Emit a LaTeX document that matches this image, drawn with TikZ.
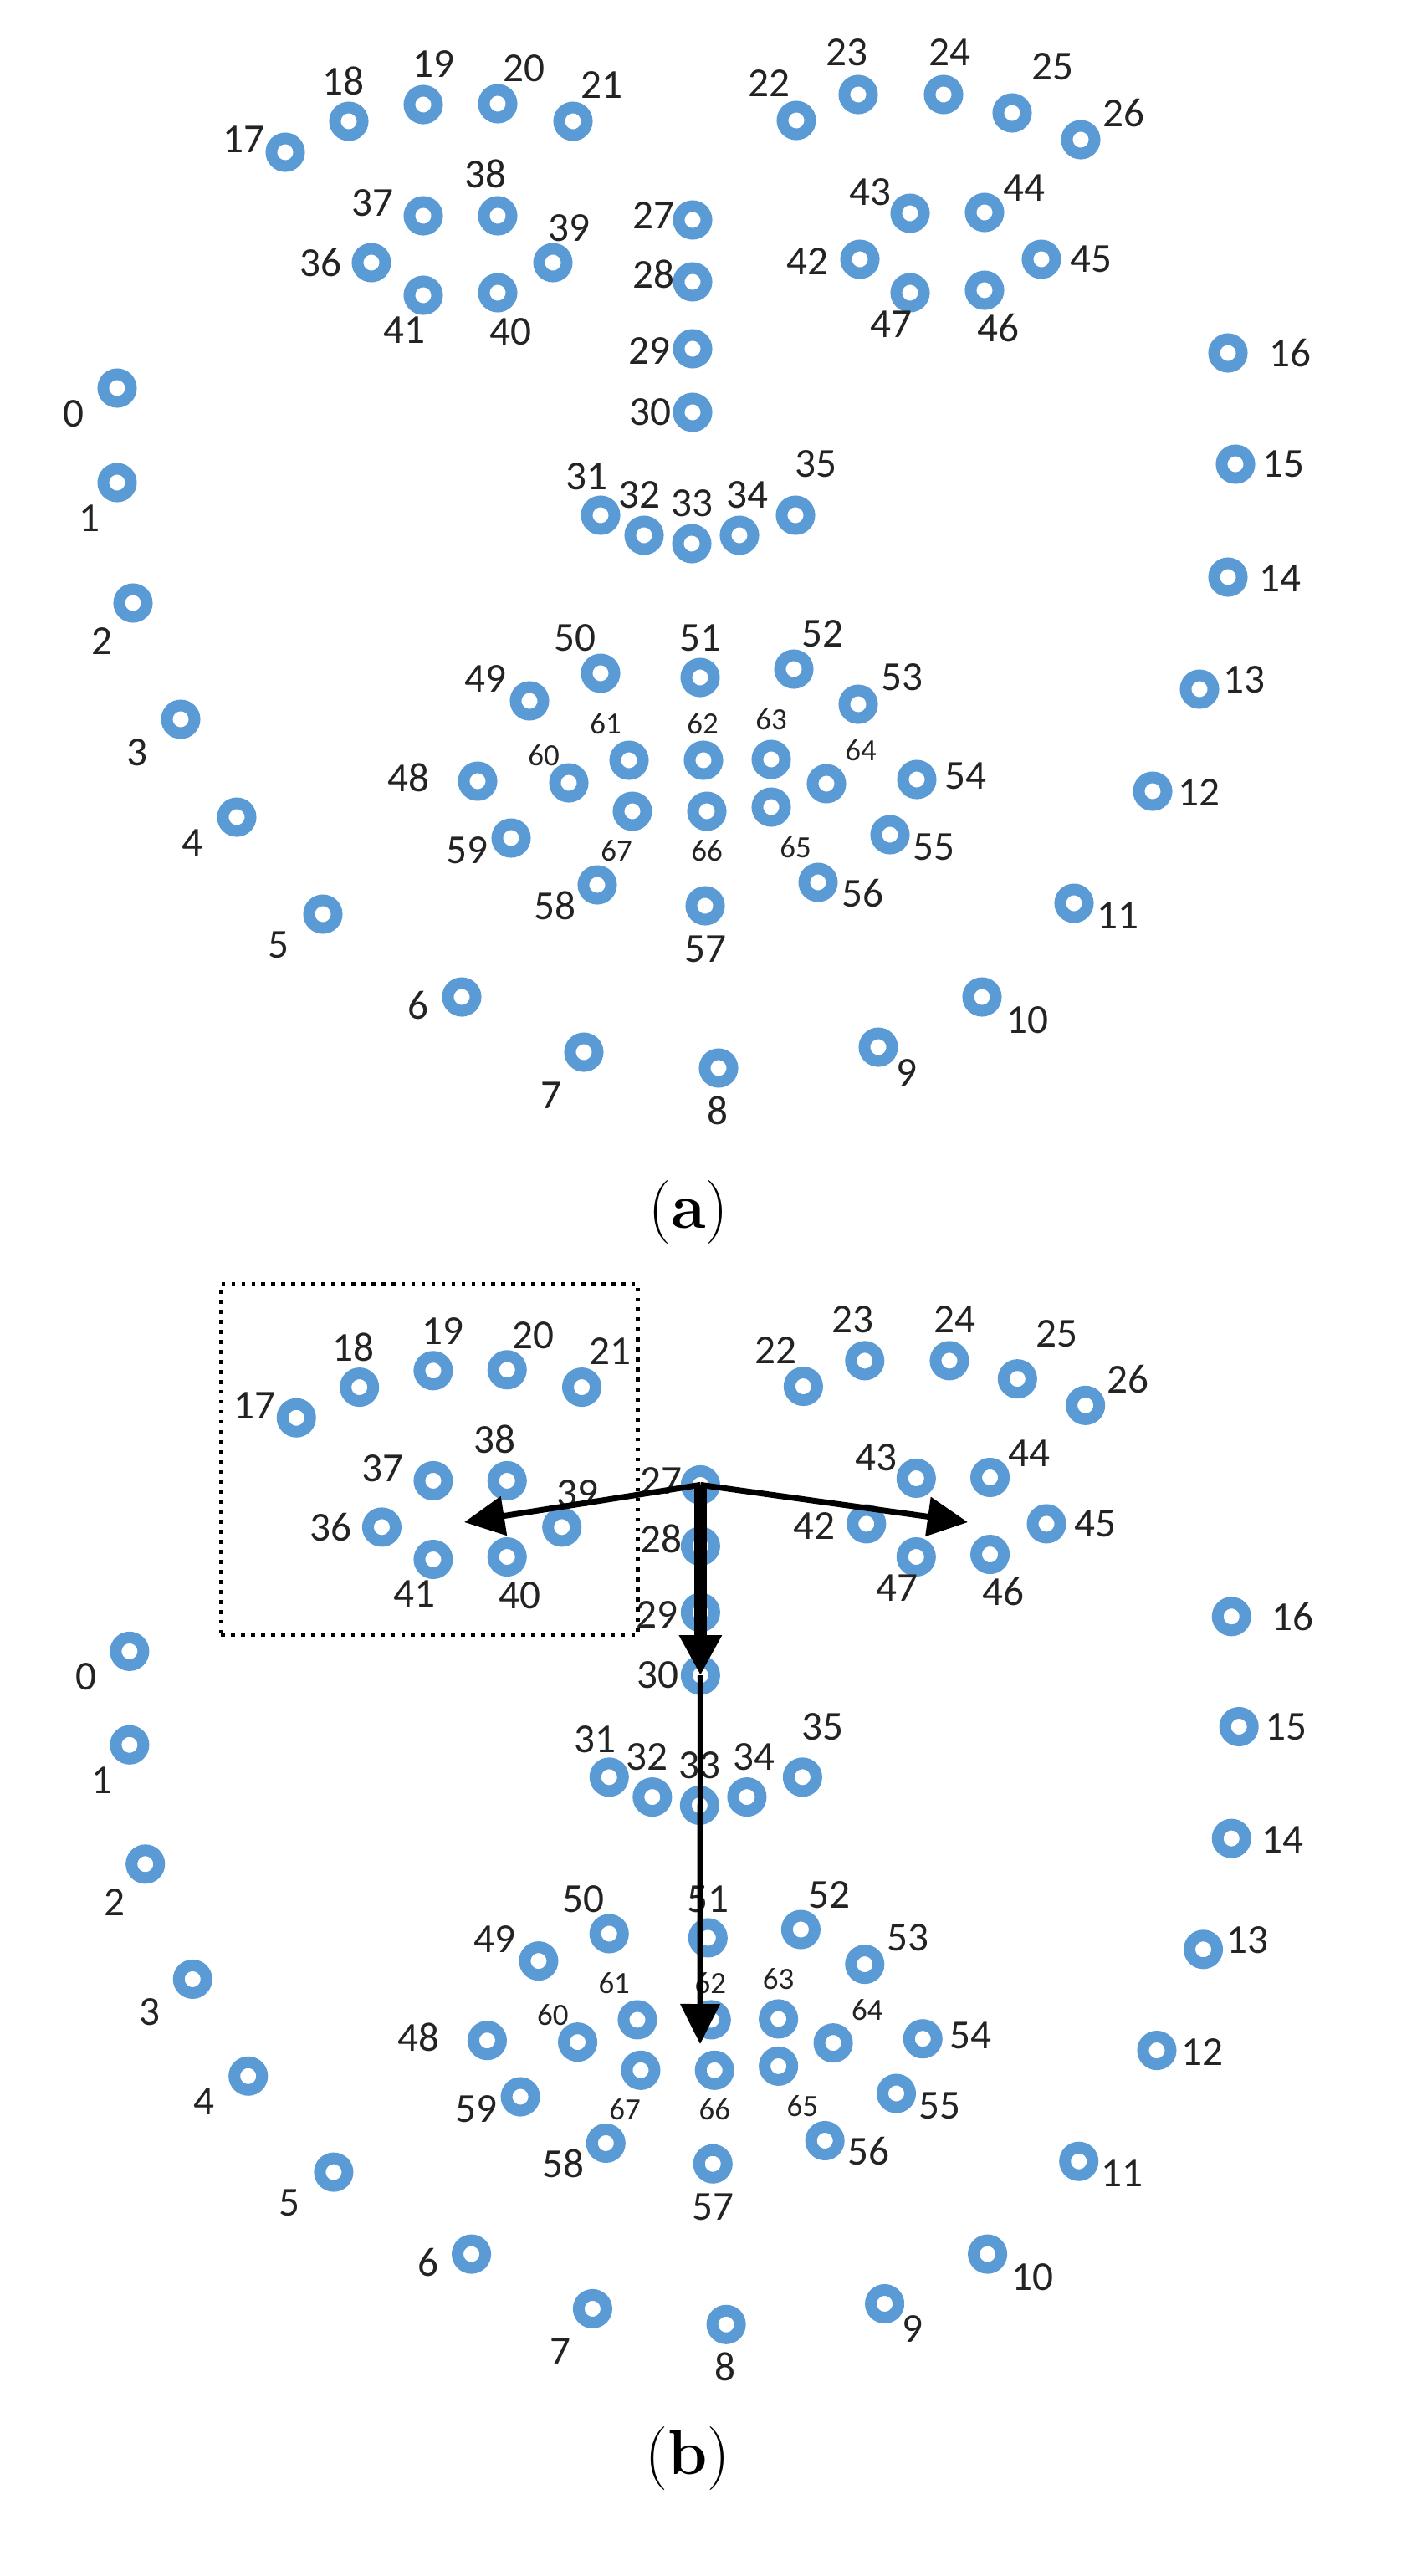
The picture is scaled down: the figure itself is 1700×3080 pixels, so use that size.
\documentclass[tikz,border=0pt]{standalone}
\usepackage{fontspec}
\newfontfamily\labfont{Carlito}
\usetikzlibrary{arrows.meta}
\definecolor{ringblue}{RGB}{91,155,213}
\definecolor{labgray}{RGB}{35,35,35}
\tikzset{
  ring/.style={circle, draw=ringblue, line width=0.14cm, minimum size=0.33cm, inner sep=0pt},
  lab/.style={font=\labfont\fontsize{14}{14}\selectfont, text=labgray, inner sep=0pt},
  slab/.style={font=\labfont\fontsize{10.5}{10.5}\selectfont, text=labgray, inner sep=0pt},
  captext/.style={font=\fontsize{21.6}{26}\selectfont, inner sep=0pt},
  arr/.style={-{Triangle[length=0.48cm,width=0.46cm]}, line width=0.07cm, black},
  thickarr/.style={-{Triangle[length=0.48cm,width=0.48cm]}, line width=0.15cm, black},
  roi/.style={draw=black, line width=1.3pt, dash pattern=on 1.3pt off 2.1pt},
}
\newcommand{\facepts}[1]{%
  \foreach \n/\x/\y/\lx/\ly in {
    0/140/464/88/495, 1/140/577/107/620, 2/159/721/122/767, 3/216/860/164/900,
    4/283/977/230/1008, 5/386/1093/333/1130, 6/552/1192/500/1202, 7/698/1258/659/1310,
    8/859/1277/858/1328, 9/1050/1252/1084/1282, 10/1174/1192/1228/1220, 11/1284/1080/1336/1095,
    12/1378/946/1433/948, 13/1434/824/1487/813, 14/1468/690/1530/692, 15/1477/555/1534/555,
    16/1468/422/1542/422, 17/341/182/291/167, 18/417/145/410/97, 19/506/125/518/77,
    20/595/124/626/82, 21/685/145/719/102, 22/952/144/919/100, 23/1026/113/1012/63,
    24/1128/113/1135/63, 25/1210/135/1258/80, 26/1292/167/1343/135, 27/828/263/781/258,
    28/828/337/781/328, 29/828/417/776/420, 30/828/493/777/493, 31/718/616/701/570,
    32/770/640/764/592, 33/827/650/827/602, 34/884/640/893/592, 35/951/616/975/555,
    36/444/314/383/314, 37/506/258/445/243, 38/595/258/580/208, 39/661/314/680/273,
    40/595/350/610/397, 41/506/353/483/395, 42/1028/310/965/313, 43/1088/255/1040/230,
    44/1177/254/1224/225, 45/1245/310/1304/310, 46/1177/347/1193/392, 47/1088/350/1065/388,
    48/571/934/488/930, 49/633/838/580/812, 50/718/805/687/763, 51/837/810/837/763,
    52/949/800/983/758, 53/1026/842/1078/810, 54/1096/932/1154/928, 55/1064/998/1116/1013,
    56/978/1055/1031/1068, 57/843/1083/843/1135, 58/714/1058/663/1083, 59/611/1002/558/1017,
    60/680/936/650/903, 61/752/909/724/865, 62/841/909/840/865, 63/922/908/922/860,
    64/988/937/1029/897, 65/922/965/951/1013, 66/845/970/845/1017, 67/756/970/737/1017}{
    \node[ring] (#1\n) at (\x,\y) {};
    \ifnum\n>59
      \node[slab] (#1l\n) at (\lx,\ly) {\n};
    \else
      \node[lab] (#1l\n) at (\lx,\ly) {\n};
    \fi
  }%
}
\begin{document}
\begin{tikzpicture}[x=0.01cm, y=-0.01cm]
  \useasboundingbox (0,0) rectangle (1700,3080);
  % panel (a)
  \begin{scope}
    \facepts{a}
  \end{scope}
  \node[captext] (capa) at (823,1450) {(\textbf{a})};
  % panel (b)
  \begin{scope}[shift={(16,1515)}, xscale=0.992, yscale=0.99]
    \facepts{b}
  \end{scope}
  \node[roi, rectangle, minimum width=4.98cm, minimum height=4.19cm, anchor=north west] (box) at (262,1533) {};
  \coordinate (ltip) at (555,1820);
  \coordinate (rtip) at (1157,1820);
  \coordinate (dtip) at (837,2444);
  \draw[arr] (b27.center) -- (ltip);
  \draw[arr] (b27.center) -- (rtip);
  \draw[arr] (b30.center) -- (dtip);
  \draw[thickarr] (b27.center) -- (b30.center);
  \node[captext] (capb) at (822,2940) {(\textbf{b})};
\end{tikzpicture}
\end{document}
